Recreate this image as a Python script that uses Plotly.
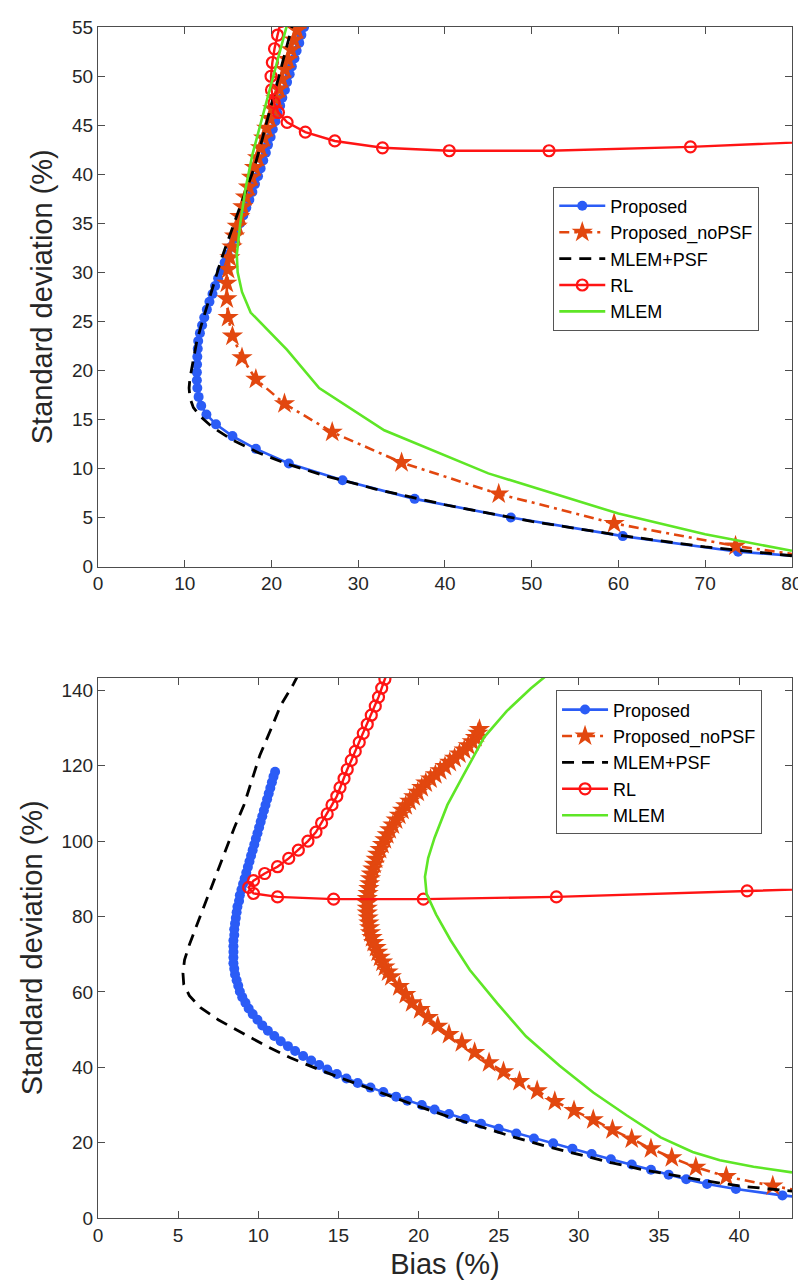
import plotly.graph_objects as go

# ---------------- TOP PANEL DATA (bias %, std %) ----------------
top_prop_bias = [90.5, 73.8, 60.5, 47.6, 36.5, 28.2, 22.0, 18.2, 15.5, 13.6, 12.5, 11.9, 11.6, 11.45, 11.4,
                 11.4, 11.42, 11.45, 11.5, 11.55, 11.75, 12.0, 12.25, 12.55, 12.85, 13.2, 13.5, 13.85, 14.2,
                 14.6, 14.95, 15.35, 15.7, 16.05, 16.4, 16.75, 17.1, 17.45, 17.8, 18.1, 18.45, 18.75, 19.05,
                 19.35, 19.6, 19.9, 20.15, 20.45, 20.7, 21.0, 21.25, 21.55, 21.8, 22.1, 22.35, 22.65, 22.9,
                 23.2, 23.45, 23.75, 24.0]
top_prop_std = [0.45, 1.5, 3.1, 5.0, 6.9, 8.8, 10.5, 12.0, 13.3, 14.5, 15.5, 16.4, 17.3, 18.2, 19.0,
                19.8, 20.6, 21.4, 22.2, 23.0, 23.8, 24.6, 25.4, 26.2, 27.0, 27.8, 28.6, 29.4, 30.2,
                31.0, 31.8, 32.6, 33.4, 34.2, 35.0, 35.8, 36.6, 37.4, 38.2, 39.0, 39.8, 40.6, 41.4,
                42.2, 43.0, 43.8, 44.6, 45.4, 46.2, 47.0, 47.8, 48.6, 49.4, 50.2, 51.0, 51.8, 52.6,
                53.4, 54.2, 55.0, 55.8]

top_nopsf_bias = [88.5, 73.5, 59.5, 46.2, 35.0, 27.0, 21.5, 18.2, 16.6, 15.5, 15.0, 14.85, 14.85, 15.0,
                  15.2, 15.45, 15.75, 16.05, 16.35, 16.7, 17.0, 17.35, 17.7, 18.05, 18.4, 18.75, 19.1,
                  19.45, 19.8, 20.15, 20.5, 20.85, 21.2, 21.55, 21.9, 22.25, 22.6, 22.95, 23.3]
top_nopsf_std = [0.2, 2.1, 4.4, 7.4, 10.6, 13.7, 16.6, 19.1, 21.3, 23.5, 25.4, 27.3, 28.9, 30.3,
                 31.5, 32.6, 33.7, 34.7, 35.7, 36.7, 37.7, 38.7, 39.7, 40.7, 41.7, 42.7, 43.7,
                 44.7, 45.7, 46.7, 47.7, 48.7, 49.7, 50.7, 51.7, 52.7, 53.7, 54.7, 55.7]

top_mlempsf_bias = [80.0, 70.0, 60.0, 50.0, 40.0, 32.0, 26.0, 22.0, 18.5, 15.5, 13.2, 11.8, 11.0, 10.6,
                    10.5, 10.6, 10.85, 11.1, 11.4, 11.9, 12.5, 13.2, 14.2, 15.0, 16.0, 17.0, 18.1, 19.0,
                    20.0, 21.0, 22.0, 22.5]
top_mlempsf_std = [1.1, 2.0, 3.2, 4.6, 6.3, 7.9, 9.3, 10.4, 11.6, 12.9, 14.2, 15.3, 16.2, 17.2,
                   18.2, 19.2, 20.4, 21.6, 23.0, 24.6, 26.4, 28.4, 31.3, 33.3, 35.7, 38.2, 40.9, 43.8,
                   47.1, 50.5, 53.9, 55.5]

top_rl_bias = [90.0, 68.3, 52.0, 40.5, 32.8, 27.3, 23.9, 21.8, 20.8, 20.3, 20.0, 19.95, 20.1, 20.35, 20.7, 21.1]
top_rl_std = [43.6, 42.8, 42.4, 42.4, 42.7, 43.4, 44.3, 45.3, 46.3, 47.3, 48.6, 50.0, 51.4, 52.8, 54.2, 55.6]

top_mlem_bias = [80.0, 70.0, 60.0, 45.0, 33.0, 25.5, 21.8, 17.6, 16.6, 16.1, 16.0, 16.4, 17.0, 17.8,
                 18.7, 19.6, 20.5, 21.4, 21.9]
top_mlem_std = [1.6, 3.3, 5.4, 9.5, 13.9, 18.2, 22.1, 25.9, 28.0, 30.0, 31.8, 35.0, 38.5, 42.0,
                45.0, 48.0, 51.0, 54.0, 55.6]

# ---------------- BOTTOM PANEL DATA (bias %, std %) ----------------
bot_prop_bias = [46.0, 42.7, 39.8, 38.0, 36.7, 35.6, 34.5, 33.3, 32.0, 30.8, 29.6, 28.4, 27.2, 26.1, 25.0,
                 23.9, 22.9, 21.9, 21.0, 20.2, 19.3, 18.6, 17.8, 17.0, 16.2, 15.5, 14.9, 14.3, 13.8, 13.3,
                 12.8, 12.3, 11.85, 11.4, 11.0, 10.6, 10.25, 9.95, 9.65, 9.4, 9.2, 9.0, 8.85, 8.75, 8.65,
                 8.55, 8.5, 8.45, 8.45, 8.45, 8.45, 8.45, 8.5, 8.5, 8.55, 8.6, 8.65, 8.7, 8.8, 8.85, 8.95,
                 9.05, 9.15, 9.25, 9.35, 9.45, 9.55, 9.65, 9.75, 9.85, 9.95, 10.05, 10.15, 10.25, 10.35,
                 10.45, 10.55, 10.65, 10.75, 10.85, 10.95, 11.05]
bot_prop_std = [4.6, 6.0, 7.7, 9.0, 10.3, 11.5, 12.8, 14.2, 15.6, 17.0, 18.4, 19.8, 21.1, 22.4, 23.7,
                25.0, 26.3, 27.6, 28.8, 30.0, 31.1, 32.2, 33.4, 34.6, 35.8, 37.0, 38.2, 39.4, 40.6, 41.8,
                43.0, 44.3, 45.6, 46.9, 48.3, 49.7, 51.1, 52.6, 54.1, 55.6, 57.1, 58.6, 60.1, 61.6, 63.1,
                64.6, 66.1, 67.6, 69.1, 70.6, 72.1, 73.6, 75.1, 76.6, 78.1, 79.6, 81.1, 82.6, 84.1, 85.6, 87.1,
                88.6, 90.1, 91.6, 93.1, 94.6, 96.1, 97.6, 99.1, 100.6, 102.1, 103.6, 105.1, 106.6, 108.1,
                109.6, 111.1, 112.6, 114.1, 115.6, 117.1, 118.4]

bot_nopsf_bias = [45.2, 42.1, 39.2, 37.3, 35.8, 34.5, 33.3, 32.1, 30.9, 29.7, 28.5, 27.4, 26.3, 25.3, 24.4,
                  23.5, 22.7, 21.9, 21.2, 20.6, 20.1, 19.6, 19.2, 18.8, 18.3, 18.1, 17.9, 17.75, 17.6,
                  17.45, 17.35, 17.2, 17.1, 17.0, 16.95, 16.9, 16.85, 16.8, 16.8, 16.8, 16.8, 16.85, 16.9,
                  16.95, 17.0, 17.05, 17.15, 17.25, 17.35, 17.45, 17.6, 17.75, 17.9, 18.05, 18.2, 18.4,
                  18.6, 18.8, 19.0, 19.2, 19.45, 19.7, 19.95, 20.2, 20.45, 20.75, 21.05, 21.35, 21.65,
                  21.95, 22.25, 22.55, 22.85, 23.1, 23.35, 23.55, 23.7, 23.8]
bot_nopsf_std = [6.2, 8.5, 11.0, 13.5, 16.0, 18.4, 21.0, 23.4, 26.1, 28.5, 30.9, 33.8, 36.2, 38.8, 41.2,
                 43.9, 46.5, 48.7, 50.9, 53.2, 55.3, 57.1, 59.3, 61.4, 64.0, 65.3, 66.6, 67.9, 69.2,
                 70.5, 71.8, 73.1, 74.4, 75.7, 77.0, 78.3, 79.6, 80.9, 82.2, 83.5, 84.8, 86.1, 87.4,
                 88.7, 90.0, 91.3, 92.6, 93.9, 95.2, 96.5, 97.8, 99.1, 100.4, 101.7, 103.0, 104.3,
                 105.6, 106.9, 108.2, 109.4, 110.6, 111.8, 113.0, 114.2, 115.4, 116.5, 117.6, 118.7, 119.8,
                 120.9, 122.0, 123.1, 124.2, 125.3, 126.4, 127.5, 128.6, 129.6]

bot_mlempsf_bias = [45.0, 42.0, 40.0, 38.0, 36.0, 34.0, 32.0, 30.0, 28.0, 26.0, 24.0, 22.0, 20.0, 18.0,
                    16.0, 14.0, 12.0, 10.5, 9.0, 7.5, 6.4, 5.7, 5.35, 5.3, 5.4, 5.7, 6.1, 6.6, 7.2, 7.8,
                    8.5, 9.1, 9.6, 10.1, 10.8, 11.4, 12.2, 12.6]
bot_mlempsf_std = [6.4, 7.6, 8.5, 9.8, 11.2, 12.8, 14.7, 16.8, 19.0, 21.4, 24.0, 26.7, 29.6, 32.6,
                   35.8, 39.0, 42.5, 45.6, 49.0, 52.6, 55.8, 59.0, 62.0, 65.0, 68.5, 72.5, 77.0, 82.5, 89.0, 96.0,
                   103.5, 109.5, 116.0, 122.8, 129.8, 136.0, 141.7, 145.0]

bot_rl_bias = [57.5, 40.5, 28.6, 20.3, 14.7, 11.2, 9.7, 9.4, 9.7, 10.4, 11.2, 11.9, 12.5, 13.1, 13.6,
               13.95, 14.3, 14.6, 14.9, 15.1, 15.35, 15.55, 15.8, 16.05, 16.3, 16.55, 16.8, 17.05, 17.3,
               17.5, 17.7, 17.9, 18.1]
bot_rl_std = [89.0, 86.8, 85.2, 84.6, 84.6, 85.2, 86.1, 87.7, 89.5, 91.4, 93.2, 95.4, 97.6, 100.0, 102.4,
              104.8, 107.2, 109.6, 111.9, 114.2, 116.6, 119.0, 121.4, 123.8, 126.2, 128.6, 131.0, 133.4, 135.8,
              138.2, 140.6, 143.0, 145.4]

bot_mlem_bias = [43.3, 40.9, 38.8, 37.1, 35.1, 33.0, 30.9, 28.8, 26.7, 24.9, 23.2, 22.0, 21.1, 20.5, 20.4,
                 20.6, 21.0, 21.8, 22.8, 24.1, 25.5, 27.0, 28.0]
bot_mlem_std = [12.1, 13.6, 15.3, 17.5, 21.4, 27.2, 33.3, 40.4, 48.2, 57.0, 65.8, 73.7, 80.5, 86.0, 90.5,
                95.5, 100.9, 109.6, 117.5, 127.6, 134.5, 140.5, 144.0]

series_names = ["Proposed", "Proposed_noPSF", "MLEM+PSF", "RL", "MLEM"]

# tick values
top_xticks = [0, 10, 20, 30, 40, 50, 60, 70, 80]
top_yticks = [0, 5, 10, 15, 20, 25, 30, 35, 40, 45, 50, 55]
bot_xticks = [0, 5, 10, 15, 20, 25, 30, 35, 40]
bot_yticks = [0, 20, 40, 60, 80, 100, 120, 140]

# ---------------- STYLE ----------------
C_BLUE = "#2B5CF6"
C_ORANGE = "#E2470F"
C_BLACK = "#000000"
C_RED = "#FF1414"
C_GREEN = "#5EE626"
FONT = "Liberation Sans, Arial, sans-serif"
TXT = "#262626"

fig = go.Figure()

def add_panel(data, xa, ya, leg):
    (pb, ps), (nb, ns), (mb, ms), (rb, rs), (gb, gs) = data
    fig.add_trace(go.Scatter(x=pb, y=ps, name=series_names[0], mode="lines+markers",
                             line=dict(color=C_BLUE, width=2.6),
                             marker=dict(symbol="circle", size=10, color=C_BLUE),
                             xaxis=xa, yaxis=ya, legend=leg))
    fig.add_trace(go.Scatter(x=nb, y=ns, name=series_names[1], mode="lines+markers",
                             line=dict(color=C_ORANGE, width=2.6, dash="10px,5px,3px,5px"),
                             marker=dict(symbol="star", size=16, color=C_ORANGE, line=dict(width=0)),
                             xaxis=xa, yaxis=ya, legend=leg))
    fig.add_trace(go.Scatter(x=mb, y=ms, name=series_names[2], mode="lines",
                             line=dict(color=C_BLACK, width=2.8, dash="12px,8px"),
                             xaxis=xa, yaxis=ya, legend=leg))
    fig.add_trace(go.Scatter(x=rb, y=rs, name=series_names[3], mode="lines+markers",
                             line=dict(color=C_RED, width=2.4),
                             marker=dict(symbol="circle-open", size=11, color=C_RED, line=dict(width=2.2)),
                             xaxis=xa, yaxis=ya, legend=leg))
    fig.add_trace(go.Scatter(x=gb, y=gs, name=series_names[4], mode="lines",
                             line=dict(color=C_GREEN, width=2.6),
                             xaxis=xa, yaxis=ya, legend=leg))

add_panel([(top_prop_bias, top_prop_std), (top_nopsf_bias, top_nopsf_std),
           (top_mlempsf_bias, top_mlempsf_std), (top_rl_bias, top_rl_std),
           (top_mlem_bias, top_mlem_std)], "x", "y", "legend")
add_panel([(bot_prop_bias, bot_prop_std), (bot_nopsf_bias, bot_nopsf_std),
           (bot_mlempsf_bias, bot_mlempsf_std), (bot_rl_bias, bot_rl_std),
           (bot_mlem_bias, bot_mlem_std)], "x2", "y2", "legend2")

axis_common = dict(showline=True, linecolor="#4d4d4d", linewidth=1, mirror="ticks",
                   ticks="inside", ticklen=7, tickwidth=1, tickcolor="#4d4d4d",
                   showgrid=False, zeroline=False, ticklabeloverflow="allow",
                   tickfont=dict(family=FONT, size=19, color=TXT))

legend_common = dict(font=dict(family=FONT, size=18, color="#000000"),
                     bgcolor="white", bordercolor="#555555", borderwidth=1,
                     xanchor="left", yanchor="top", itemwidth=46, tracegroupgap=0)

title_font = dict(family=FONT, size=29, color=TXT)

fig.update_layout(
    width=806, height=1288,
    margin=dict(l=90, r=22, t=9, b=78),
    plot_bgcolor="white", paper_bgcolor="white",
    showlegend=True,
    xaxis=dict(domain=[0, 1], range=[0, 80.01], tickvals=top_xticks, anchor="y", **axis_common),
    yaxis=dict(domain=[0.547, 1.0], range=[0, 55.02], tickvals=top_yticks, anchor="x",
               title=dict(text="Standard deviation (%)", font=title_font, standoff=10),
               **axis_common),
    xaxis2=dict(domain=[0, 1], range=[0, 43.3], tickvals=bot_xticks, anchor="y2",
                title=dict(text="Bias (%)", font=title_font, standoff=8),
                **axis_common),
    yaxis2=dict(domain=[0, 0.4538], range=[0, 143.4], tickvals=bot_yticks, anchor="x2",
                title=dict(text="Standard deviation (%)", font=title_font, standoff=10),
                **axis_common),
    legend=dict(x=0.656, y=0.866, **legend_common),
    legend2=dict(x=0.66, y=0.443, **legend_common),
)

fig.write_html("out.html")
